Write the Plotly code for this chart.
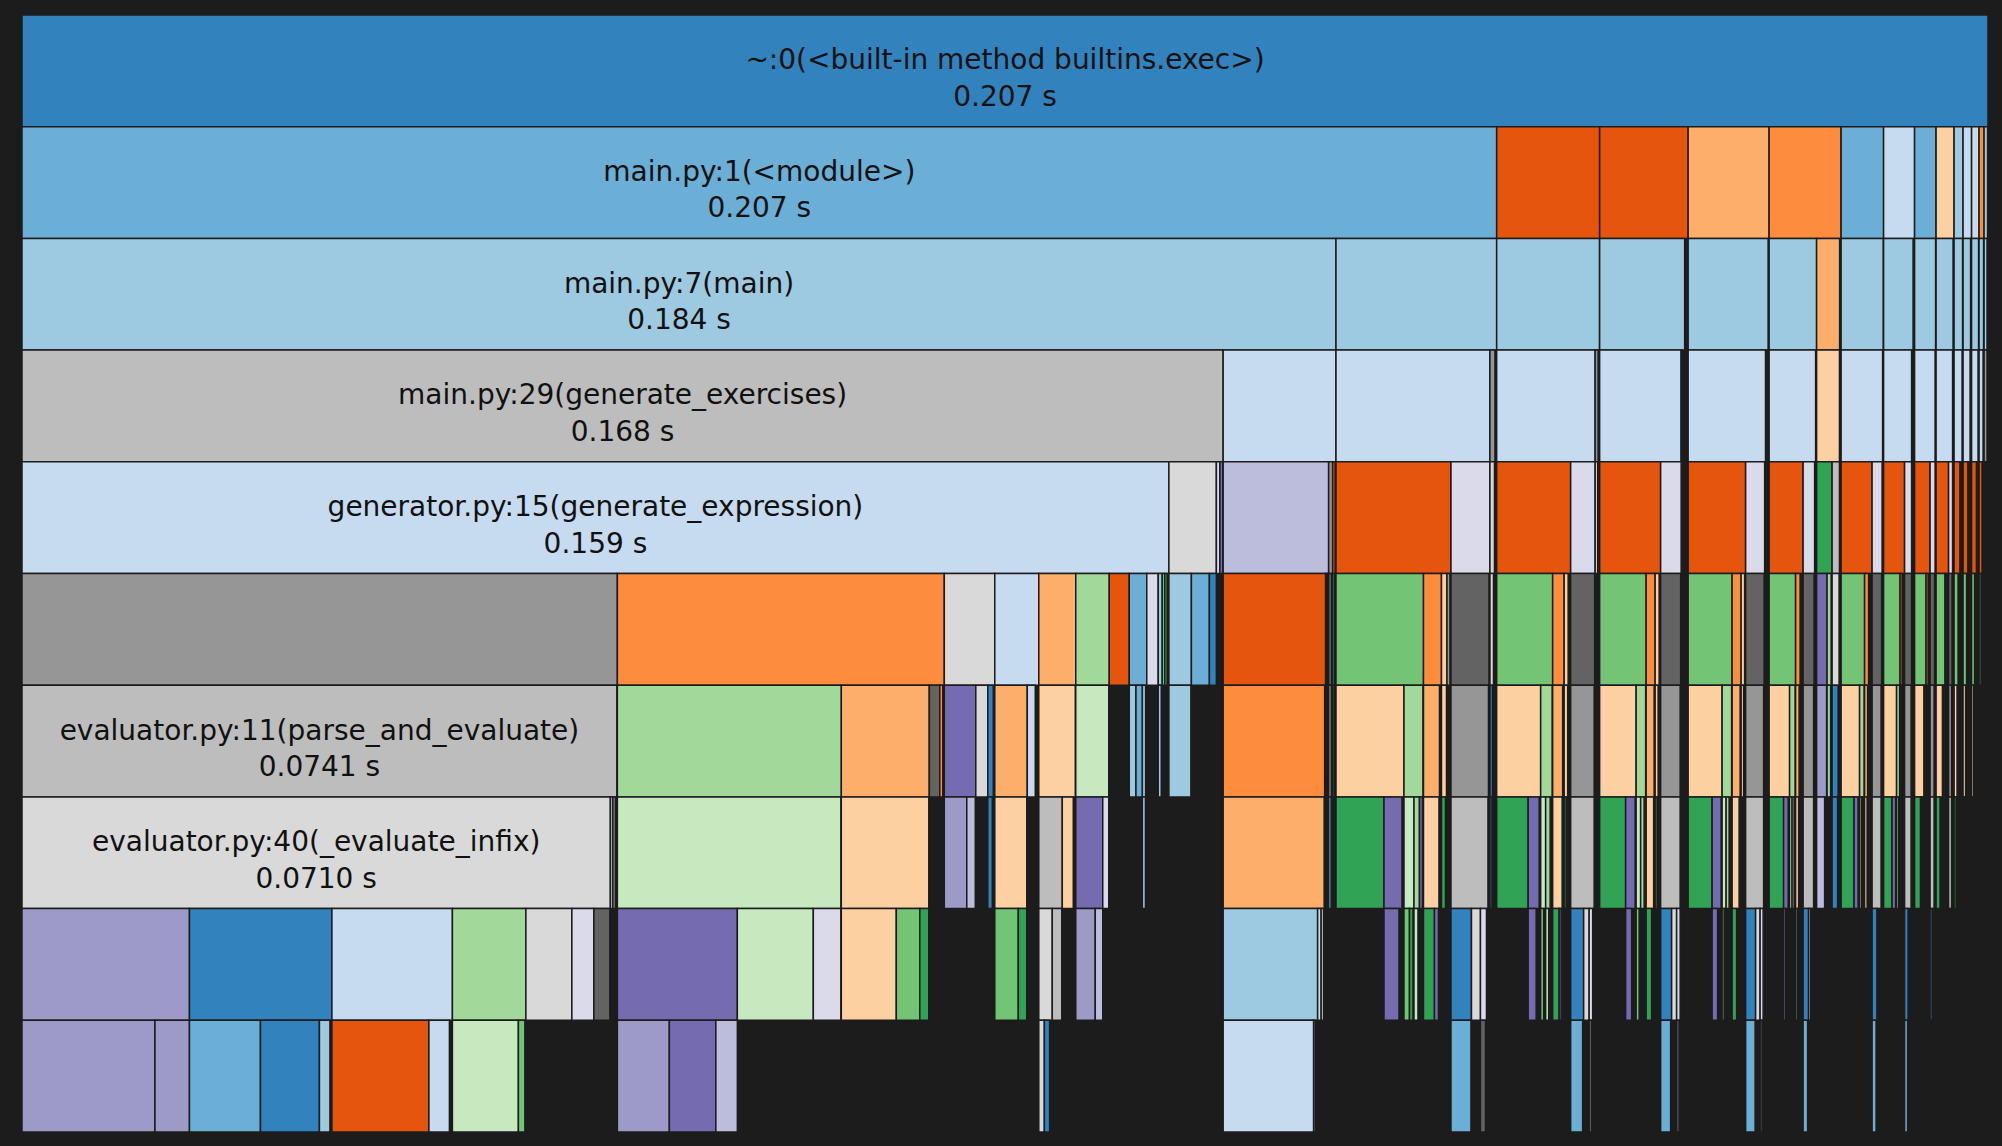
import plotly.graph_objects as go

# ---------------------------------------------------------------------------
# Profile call tree (cProfile-style), sizes are time in milliseconds.
# Each row: (node id, parent id, function key, time_ms)
# ---------------------------------------------------------------------------
LEVEL1 = [("root", "", "exec", 275.3)]

LEVEL2 = [
    ("2a", "root", "main1", 206.5), ("2b", "root", "o0", 14.42), ("2c", "root", "o0", 12.39),
    ("2d", "root", "o2", 11.34), ("2e", "root", "o1", 10.08), ("2f", "root", "b1", 5.95),
    ("2g", "root", "b3", 4.34), ("2h", "root", "b1", 3.01), ("2i", "root", "o3", 2.52),
    ("2j", "root", "b2", 1.26), ("2k", "root", "b3", 1.19), ("2l", "root", "b3", 1.05),
    ("2m", "root", "o1", 0.70), ("2n", "root", "b2", 0.49),
]

LEVEL3 = [
    ("3a", "2a", "main7", 184.0), ("3b", "2a", "b2", 22.5), ("3c", "2b", "b2", 14.4),
    ("3d", "2c", "b2", 11.9), ("3e", "2d", "b2", 11.2), ("3f", "2e", "b2", 6.65),
    ("3g", "2e", "o2", 3.22), ("3h", "2f", "b2", 5.9), ("3i", "2g", "b2", 4.13),
    ("3j", "2h", "b2", 2.94), ("3k", "2i", "b2", 2.38), ("3l", "2j", "b2", 1.19),
    ("3m", "2k", "b2", 1.05), ("3n", "2l", "b2", 0.98), ("3o", "2m", "b2", 0.63),
    ("3p", "2n", "b2", 0.42),
]

LEVEL4 = [
    ("4a", "3a", "main29", 168.2), ("4b", "3a", "b3", 15.8), ("4c", "3b", "b3", 21.56),
    ("4d", "3b", "k1", 0.7), ("4e", "3c", "b3", 13.79), ("4f", "3c", "k1", 0.42),
    ("4g", "3d", "b3", 11.41), ("4h", "3d", "k0", 0.21), ("4i", "3e", "b3", 10.85),
    ("4j", "3e", "k1", 0.21), ("4k", "3f", "b3", 6.51), ("4l", "3g", "o3", 3.2),
    ("4m", "3h", "b3", 5.81), ("4n", "3i", "b3", 3.92), ("4o", "3j", "b3", 2.87),
    ("4p", "3k", "b3", 2.31), ("4q", "3l", "b3", 1.12), ("4r", "3m", "b3", 0.98),
    ("4s", "3n", "b3", 0.91), ("4t", "3o", "b3", 0.56), ("4u", "3p", "k1", 0.42),
]

LEVEL5 = [
    ("5a", "4a", "gen15", 160.6), ("5b", "4a", "k3", 6.65), ("5c", "4a", "p3", 0.49),
    ("5d", "4a", "p0", 0.42), ("5e", "4b", "p2", 14.77), ("5f", "4b", "o0", 0.35),
    ("5g", "4b", "k1", 0.56), ("5h", "4c", "o0", 16.1), ("5i", "4c", "p3", 5.46),
    ("5j", "4d", "k3", 0.63), ("5k", "4e", "o0", 10.36), ("5l", "4e", "p3", 3.43),
    ("5m", "4f", "k3", 0.35), ("5n", "4g", "o0", 8.54), ("5o", "4g", "p3", 2.87),
    ("5p", "4i", "o0", 8.05), ("5q", "4i", "p3", 2.66), ("5r", "4k", "o0", 4.76),
    ("5s", "4k", "p3", 1.61), ("5t", "4l", "g0", 2.17), ("5u", "4l", "k2", 1.03),
    ("5v", "4m", "o0", 4.34), ("5w", "4m", "p3", 1.4), ("5x", "4n", "o0", 2.94),
    ("5y", "4n", "p3", 0.98), ("5z", "4o", "o0", 2.17), ("5A", "4o", "p3", 0.7),
    ("5B", "4p", "o0", 1.75), ("5C", "4p", "p3", 0.56), ("5D", "4q", "o0", 0.84),
    ("5E", "4q", "p3", 0.21), ("5F", "4r", "o0", 0.7), ("5G", "4r", "p3", 0.21),
    ("5H", "4s", "o0", 0.7), ("5I", "4s", "p3", 0.21), ("5J", "4t", "o0", 0.42),
]

LEVEL6 = [
    ("6a", "5a", "k1", 83.37), ("6b", "5a", "o1", 45.78), ("6c", "5a", "k3", 7.07),
    ("6d", "5a", "b3", 6.16), ("6e", "5a", "o2", 5.18), ("6f", "5a", "g2", 4.69),
    ("6g", "5a", "o0", 2.8), ("6h", "5a", "b1", 2.45), ("6i", "5a", "p3", 1.61),
    ("6j", "5a", "b2", 0.56), ("6k", "5a", "g1", 0.35), ("6l", "5a", "g0", 0.35),
    ("6m", "5b", "b2", 3.15), ("6n", "5b", "b1", 2.52), ("6o", "5b", "b0", 0.98),
    ("6p", "5e", "o0", 14.35), ("6q", "5e", "k0", 0.21), ("6r", "5e", "o1", 0.2),
    ("6s", "5f", "g0", 0.28), ("6t", "5g", "k0", 0.42), ("6u", "5h", "g1", 12.25),
    ("6v", "5h", "o1", 2.52), ("6w", "5h", "o3", 0.77), ("6x", "5h", "k1", 0.42),
    ("6y", "5i", "k0", 5.32), ("6z", "5j", "k3", 0.49), ("6A", "5k", "g1", 7.84),
    ("6B", "5k", "o1", 1.61), ("6C", "5k", "o3", 0.56), ("6D", "5l", "k0", 3.36),
    ("6E", "5n", "g1", 6.51), ("6F", "5n", "o1", 1.26), ("6G", "5n", "o3", 0.56),
    ("6H", "5o", "k0", 2.8), ("6I", "5p", "g1", 6.16), ("6J", "5p", "o1", 1.26),
    ("6K", "5p", "o3", 0.49), ("6L", "5q", "k0", 2.59), ("6M", "5r", "g1", 3.71),
    ("6N", "5r", "o1", 0.63), ("6O", "5s", "k0", 1.54), ("6P", "5t", "p0", 1.47),
    ("6Q", "5t", "g2", 0.56), ("6R", "5u", "k3", 0.98), ("6S", "5v", "g1", 3.29),
    ("6T", "5v", "o1", 0.56), ("6U", "5w", "k0", 1.33), ("6V", "5x", "g1", 2.31),
    ("6W", "5x", "o1", 0.28), ("6X", "5y", "k0", 0.98), ("6Y", "5z", "g1", 1.61),
    ("6Z", "5z", "o1", 0.28), ("6aa", "5A", "k0", 0.63), ("6ab", "5B", "g1", 1.26),
    ("6ac", "5B", "o1", 0.21), ("6ad", "5C", "k0", 0.49), ("6ae", "5D", "g1", 0.56),
    ("6af", "5F", "g1", 0.49), ("6ag", "5H", "g1", 0.42), ("6ah", "5J", "g0", 0.28),
]

LEVEL7 = [
    ("7a", "6a", "eval11", 83.3), ("7b", "6b", "g2", 31.36), ("7c", "6b", "o2", 12.32),
    ("7d", "6b", "k0", 1.47), ("7e", "6b", "o1", 0.42), ("7f", "6c", "p0", 4.41),
    ("7g", "6c", "k3", 1.68), ("7h", "6c", "b0", 0.77), ("7i", "6d", "o2", 4.55),
    ("7j", "6d", "b3", 1.12), ("7k", "6e", "o3", 5.11), ("7l", "6f", "g3", 4.62),
    ("7m", "6h", "b2", 0.94), ("7n", "6h", "b1", 0.9), ("7o", "6h", "b2", 0.45),
    ("7p", "6j", "b2", 0.42), ("7q", "6m", "b2", 3.08), ("7r", "6p", "o1", 14.21),
    ("7s", "6s", "g0", 0.25), ("7t", "6t", "k1", 0.38), ("7u", "6u", "o3", 9.52),
    ("7v", "6u", "g2", 2.66), ("7w", "6v", "o2", 2.24), ("7x", "6w", "o3", 0.7),
    ("7y", "6y", "k1", 5.25), ("7z", "6z", "b0", 0.35), ("7A", "6A", "o3", 6.16),
    ("7B", "6A", "g2", 1.61), ("7C", "6B", "o2", 1.4), ("7D", "6C", "o3", 0.49),
    ("7E", "6D", "k1", 3.29), ("7F", "6E", "o3", 5.11), ("7G", "6E", "g2", 1.33),
    ("7H", "6F", "o2", 1.12), ("7I", "6G", "o3", 0.42), ("7J", "6H", "k1", 2.73),
    ("7K", "6I", "o3", 4.76), ("7L", "6I", "g2", 1.33), ("7M", "6J", "o2", 1.12),
    ("7N", "6K", "o3", 0.35), ("7O", "6L", "k1", 2.52), ("7P", "6M", "o3", 2.87),
    ("7Q", "6M", "g2", 0.77), ("7R", "6N", "o2", 0.49), ("7S", "6O", "k1", 1.47),
    ("7T", "6P", "p1", 1.4), ("7U", "6Q", "g2", 0.49), ("7V", "6R", "b0", 0.84),
    ("7W", "6S", "o3", 2.59), ("7X", "6S", "g2", 0.63), ("7Y", "6T", "o2", 0.42),
    ("7Z", "6U", "k1", 1.26), ("7aa", "6V", "o3", 1.82), ("7ab", "6V", "g2", 0.42),
    ("7ac", "6W", "o2", 0.21), ("7ad", "6X", "k1", 0.91), ("7ae", "6Y", "o3", 1.33),
    ("7af", "6Y", "g2", 0.21), ("7ag", "6aa", "k1", 0.56), ("7ah", "6ab", "o3", 0.91),
    ("7ai", "6ab", "g2", 0.21), ("7aj", "6ad", "k1", 0.42), ("7ak", "6ae", "o3", 0.42),
    ("7al", "6af", "o3", 0.35), ("7am", "6ag", "o3", 0.28),
]

LEVEL8 = [
    ("8a", "7a", "eval40", 82.39), ("8b", "7a", "k2", 0.35), ("8c", "7a", "k1", 0.35),
    ("8d", "7b", "g3", 31.3), ("8e", "7c", "o3", 12.25), ("8f", "7f", "p1", 3.15),
    ("8g", "7f", "p2", 1.19), ("8h", "7h", "b0", 0.63), ("8i", "7i", "o3", 4.48),
    ("8j", "7k", "k2", 3.29), ("8k", "7k", "o3", 1.54), ("8l", "7l", "p0", 3.78),
    ("8m", "7l", "p3", 0.84), ("8n", "7o", "b2", 0.42), ("8o", "7r", "o2", 14.14),
    ("8p", "7t", "b1", 0.35), ("8q", "7u", "g0", 6.72), ("8r", "7u", "p0", 2.52),
    ("8s", "7v", "g3", 1.4), ("8t", "7v", "g2", 0.77), ("8u", "7v", "p0", 0.42),
    ("8v", "7w", "o3", 2.17), ("8w", "7x", "g0", 0.56), ("8x", "7y", "k2", 5.18),
    ("8y", "7z", "b0", 0.28), ("8z", "7A", "g0", 4.41), ("8A", "7A", "p0", 1.54),
    ("8B", "7B", "g3", 0.7), ("8C", "7B", "g2", 0.63), ("8D", "7C", "o3", 1.33),
    ("8E", "7D", "g0", 0.28), ("8F", "7E", "k2", 3.29), ("8G", "7F", "g0", 3.64),
    ("8H", "7F", "p0", 1.33), ("8I", "7G", "g3", 0.63), ("8J", "7G", "g2", 0.49),
    ("8K", "7H", "o3", 1.05), ("8L", "7I", "g0", 0.28), ("8M", "7J", "k2", 2.73),
    ("8N", "7K", "g0", 3.36), ("8O", "7K", "p0", 1.26), ("8P", "7L", "g3", 0.56),
    ("8Q", "7L", "g2", 0.42), ("8R", "7M", "o3", 0.98), ("8S", "7O", "k2", 2.52),
    ("8T", "7P", "g0", 2.03), ("8U", "7P", "p0", 0.63), ("8V", "7Q", "g3", 0.35),
    ("8W", "7Q", "g2", 0.28), ("8X", "7R", "o3", 0.42), ("8Y", "7S", "k2", 1.47),
    ("8Z", "7T", "p2", 1.12), ("8aa", "7V", "b0", 0.77), ("8ab", "7W", "g0", 1.82),
    ("8ac", "7W", "p0", 0.56), ("8ad", "7X", "g3", 0.28), ("8ae", "7X", "g2", 0.21),
    ("8af", "7Y", "o3", 0.35), ("8ag", "7Z", "k2", 1.26), ("8ah", "7aa", "g0", 1.19),
    ("8ai", "7aa", "p0", 0.49), ("8aj", "7ab", "g2", 0.28), ("8ak", "7ac", "o3", 0.2),
    ("8al", "7ad", "k2", 0.91), ("8am", "7ae", "g0", 0.84), ("8an", "7ae", "p0", 0.21),
    ("8ao", "7ag", "k2", 0.56), ("8ap", "7ah", "g0", 0.56), ("8aq", "7aj", "k2", 0.42),
    ("8ar", "7ak", "g0", 0.28), ("8as", "7al", "g0", 0.21), ("8at", "7am", "g0", 0.2),
]

LEVEL9 = [
    ("9a", "8a", "p1", 23.45), ("9b", "8a", "b0", 19.95), ("9c", "8a", "b3", 16.87),
    ("9d", "8a", "g2", 10.29), ("9e", "8a", "k3", 6.44), ("9f", "8a", "p3", 3.08),
    ("9g", "8a", "k0", 2.24), ("9h", "8d", "p0", 16.8), ("9i", "8d", "g3", 10.64),
    ("9j", "8d", "p3", 3.85), ("9k", "8e", "o3", 7.7), ("9l", "8e", "g1", 3.29),
    ("9m", "8e", "g0", 1.26), ("9n", "8i", "g1", 3.29), ("9o", "8i", "g0", 1.19),
    ("9p", "8j", "k3", 1.89), ("9q", "8j", "k2", 1.33), ("9r", "8l", "p1", 2.73),
    ("9s", "8l", "p2", 1.05), ("9t", "8o", "b2", 13.23), ("9u", "8o", "b3", 0.49),
    ("9v", "8o", "k2", 0.35), ("9w", "8r", "p0", 2.1), ("9x", "8s", "g1", 0.77),
    ("9y", "8s", "g0", 0.49), ("9z", "8t", "g3", 0.56), ("9A", "8v", "g0", 1.54),
    ("9B", "8v", "p0", 0.56), ("9C", "8x", "b0", 2.87), ("9D", "8x", "k3", 1.26),
    ("9E", "8x", "p3", 0.84), ("9F", "8A", "p0", 1.12), ("9G", "8B", "g1", 0.42),
    ("9H", "8C", "g3", 0.42), ("9I", "8D", "g0", 0.91), ("9J", "8D", "p0", 0.28),
    ("9K", "8F", "b0", 1.82), ("9L", "8F", "k3", 0.77), ("9M", "8F", "p3", 0.49),
    ("9N", "8H", "p0", 0.84), ("9O", "8I", "g1", 0.42), ("9P", "8K", "g0", 0.77),
    ("9Q", "8M", "b0", 1.54), ("9R", "8M", "k3", 0.7), ("9S", "8M", "p3", 0.49),
    ("9T", "8O", "p0", 0.77), ("9U", "8P", "g1", 0.28), ("9V", "8R", "g0", 0.63),
    ("9W", "8S", "b0", 1.4), ("9X", "8S", "k3", 0.63), ("9Y", "8S", "p3", 0.42),
    ("9Z", "8U", "p0", 0.28), ("9aa", "8X", "g0", 0.28), ("9ab", "8Y", "b0", 0.77),
    ("9ac", "8Y", "k3", 0.28), ("9ad", "8Y", "p3", 0.21), ("9ae", "8ac", "p0", 0.21),
    ("9af", "8ag", "b0", 0.7), ("9ag", "8ag", "k3", 0.21), ("9ah", "8al", "b0", 0.49),
    ("9ai", "8ao", "b0", 0.28), ("9aj", "8aq", "b0", 0.21),
]

LEVEL10 = [
    ("10a", "9a", "p1", 18.62), ("10b", "9a", "p1", 4.83), ("10c", "9b", "b1", 9.94),
    ("10d", "9b", "b0", 8.26), ("10e", "9b", "b2", 1.47), ("10f", "9c", "o0", 13.58),
    ("10g", "9c", "b3", 2.87), ("10h", "9d", "g3", 9.24), ("10i", "9d", "g1", 0.91),
    ("10j", "9h", "p1", 7.28), ("10k", "9h", "p0", 6.51), ("10l", "9h", "p2", 3.01),
    ("10m", "9p", "k3", 0.78), ("10n", "9p", "b0", 0.74), ("10o", "9t", "b3", 12.67),
    ("10p", "9t", "k0", 0.28), ("10q", "9C", "b1", 2.8), ("10r", "9E", "k0", 0.7),
    ("10s", "9K", "b1", 1.68), ("10t", "9M", "k0", 0.35), ("10u", "9Q", "b1", 1.4),
    ("10v", "9S", "k0", 0.35), ("10w", "9W", "b1", 1.33), ("10x", "9Y", "k0", 0.28),
    ("10y", "9ab", "b1", 0.63), ("10z", "9af", "b1", 0.56), ("10A", "9ah", "b1", 0.42),
    ("10B", "9ai", "b1", 0.21),
]

# Named functions (the only cells large enough to carry a caption)
FUNC_NAMES = {
    "exec": "~:0(<built-in method builtins.exec>)",
    "main1": "main.py:1(<module>)",
    "main7": "main.py:7(main)",
    "main29": "main.py:29(generate_exercises)",
    "gen15": "generator.py:15(generate_expression)",
    "eval11": "evaluator.py:11(parse_and_evaluate)",
    "eval40": "evaluator.py:40(_evaluate_infix)",
}
# cumulative time (s) reported for the named functions
CUMTIME_S = {
    "exec": 0.207, "main1": 0.207, "main7": 0.184, "main29": 0.168,
    "gen15": 0.159, "eval11": 0.0741, "eval40": 0.0710,
}

# ---------------------------------------------------------------------------
# Styles
# ---------------------------------------------------------------------------
TAB20C = {
    "b0": "#3182bd", "b1": "#6baed6", "b2": "#9ecae1", "b3": "#c6dbef",
    "o0": "#e6550d", "o1": "#fd8d3c", "o2": "#fdae6b", "o3": "#fdd0a2",
    "g0": "#31a354", "g1": "#74c476", "g2": "#a1d99b", "g3": "#c7e9c0",
    "p0": "#756bb1", "p1": "#9e9ac8", "p2": "#bcbddc", "p3": "#dadaeb",
    "k0": "#636363", "k1": "#969696", "k2": "#bdbdbd", "k3": "#d9d9d9",
}
FUNC_COLOR = {"exec": "#3182bd", "main1": "#6baed6", "main7": "#9ecae1",
              "main29": "#bdbdbd", "gen15": "#c6dbef", "eval11": "#bdbdbd",
              "eval40": "#d9d9d9"}
BG = "#1c1c1c"
# tiny spacer line above each caption, nudges the caption block slightly lower
SPACER = '<span style="font-size:4px">\u00a0</span><br>'

# ---------------------------------------------------------------------------
nodes = LEVEL1 + LEVEL2 + LEVEL3 + LEVEL4 + LEVEL5 + LEVEL6 + LEVEL7 + LEVEL8 + LEVEL9 + LEVEL10

ids = [n[0] for n in nodes]
parents = [n[1] for n in nodes]
keys = [n[2] for n in nodes]
total_ms = {n[0]: n[3] for n in nodes}

# self time = cumulative time minus time spent in children
child_sum = {}
for nid, par, _, ms in nodes:
    if par:
        child_sum[par] = child_sum.get(par, 0.0) + ms
self_ms = [max(total_ms[i] - child_sum.get(i, 0.0), 0.0) for i in ids]

labels = [FUNC_NAMES.get(k, k) for k in keys]
colors = [FUNC_COLOR.get(k, TAB20C.get(k, "#888888")) for k in keys]
texts = [
    f"{SPACER}{FUNC_NAMES[k].replace('<', '&lt;').replace('>', '&gt;')}<br>{CUMTIME_S[k]:#.3g} s"
    if k in FUNC_NAMES else ""
    for k in keys
]

fig = go.Figure(
    go.Icicle(
        ids=ids,
        labels=labels,
        parents=parents,
        values=self_ms,
        branchvalues="remainder",
        text=texts,
        texttemplate="%{text}",
        textposition="middle center",
        textfont=dict(family="DejaVu Sans", size=28, color="#111111"),
        marker=dict(colors=colors, line=dict(color=BG, width=1.5)),
        leaf=dict(opacity=1),
        tiling=dict(orientation="v", pad=0),
        pathbar=dict(visible=False),
        maxdepth=10,
        sort=True,
        hoverinfo="label",
    )
)

fig.update_layout(
    width=2002,
    height=1146,
    margin=dict(l=22, r=14, t=15, b=14),
    paper_bgcolor=BG,
    plot_bgcolor=BG,
    showlegend=False,
)

# page body: no default margin, same dark background as the figure
fig.write_html(
    "out.html",
    config={"displayModeBar": False},
    post_script=(
        "document.body.style.margin='0';"
        "document.body.style.background='#1c1c1c';"
        "document.body.style.overflow='hidden';"
    ),
)
